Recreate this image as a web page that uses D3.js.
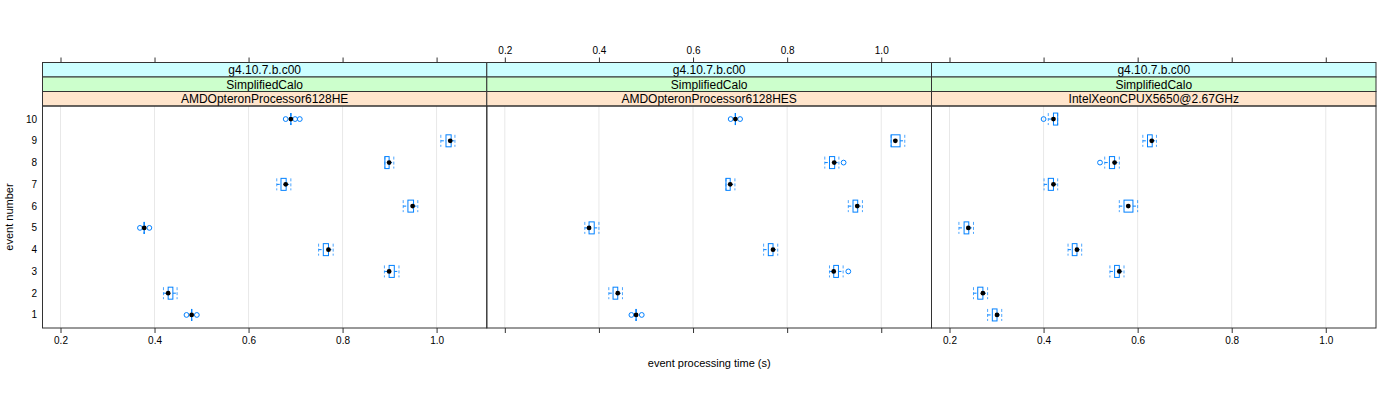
<!DOCTYPE html>
<html><head><meta charset="utf-8">
<script src="https://cdn.jsdelivr.net/npm/d3@7"></script>
<style>body{margin:0;background:#fff}svg text{font-family:"Liberation Sans",Arial,sans-serif}</style>
</head><body><svg id="c" width="1400" height="400"></svg>
<script>
const events = [1,2,3,4,5,6,7,8,9,10];
const xTicks = [0.2,0.4,0.6,0.8,1.0];
const stripTop = ["g4.10.7.b.c00","g4.10.7.b.c00","g4.10.7.b.c00"];
const stripMid = ["SimplifiedCalo","SimplifiedCalo","SimplifiedCalo"];
const stripBot = ["AMDOpteronProcessor6128HE","AMDOpteronProcessor6128HES","IntelXeonCPUX5650@2.67GHz"];

// panel 1: AMDOpteronProcessor6128HE
const p1Median = [0.479,0.429,0.899,0.770,0.378,0.949,0.679,0.899,1.029,0.690];
const p1Q1     = [0.479,0.429,0.899,0.759,0.378,0.939,0.669,0.890,1.020,0.690];
const p1Q3     = [0.479,0.439,0.910,0.770,0.378,0.951,0.680,0.899,1.031,0.690];
const p1Lo     = [0.479,0.419,0.889,0.749,0.378,0.929,0.660,0.890,1.009,0.690];
const p1Hi     = [0.479,0.448,0.920,0.780,0.378,0.960,0.690,0.909,1.039,0.690];
const p1Out    = [[0.468,0.490],[],[],[],[0.369,0.389],[],[],[],[],[0.679,0.699,0.709]];

// panel 2: AMDOpteronProcessor6128HES
const p2Median = [0.479,0.440,0.899,0.770,0.379,0.949,0.679,0.900,1.030,0.690];
const p2Q1     = [0.479,0.430,0.899,0.760,0.379,0.940,0.670,0.890,1.021,0.690];
const p2Q3     = [0.479,0.440,0.909,0.770,0.390,0.950,0.679,0.901,1.040,0.690];
const p2Lo     = [0.479,0.421,0.890,0.750,0.370,0.930,0.670,0.880,1.021,0.690];
const p2Hi     = [0.479,0.450,0.919,0.780,0.400,0.960,0.689,0.910,1.050,0.690];
const p2Out    = [[0.469,0.491],[],[0.930],[],[],[],[],[0.920],[],[0.680,0.700]];

// panel 3: IntelXeonCPUX5650@2.67GHz
const p3Median = [0.301,0.271,0.561,0.471,0.240,0.580,0.421,0.551,0.630,0.421];
const p3Q1     = [0.291,0.260,0.551,0.461,0.231,0.571,0.410,0.540,0.621,0.421];
const p3Q3     = [0.301,0.271,0.561,0.471,0.241,0.590,0.421,0.551,0.631,0.430];
const p3Lo     = [0.281,0.251,0.541,0.452,0.220,0.561,0.401,0.530,0.611,0.410];
const p3Hi     = [0.311,0.281,0.571,0.481,0.251,0.600,0.430,0.561,0.640,0.430];
const p3Out    = [[],[],[],[],[],[],[],[0.520],[],[0.400]];

const panels = [
  {med:p1Median,q1:p1Q1,q3:p1Q3,lo:p1Lo,hi:p1Hi,out:p1Out},
  {med:p2Median,q1:p2Q1,q3:p2Q3,lo:p2Lo,hi:p2Hi,out:p2Out},
  {med:p3Median,q1:p3Q1,q3:p3Q3,lo:p3Lo,hi:p3Hi,out:p3Out}
];

const svg = d3.select("#c");
const panelX = [42.5, 486.8, 931.5, 1376];
const pTop = 106, pBottom = 328;
const stripH = 14.5;
const stripCols = ["#ccffff","#ccffcc","#ffe5cc"];
const blue = "#0080ff", frame = "#333333";
const y = d3.scaleLinear().domain([0.4,10.6]).range([pBottom, pTop]);
const boxH = 12;

panels.forEach((p, i) => {
  const x0 = panelX[i], x1 = panelX[i+1];
  const x = d3.scaleLinear().domain([0.1617, 1.1068]).range([x0, x1]);
  const g = svg.append("g");
  g.selectAll("line.grid").data(xTicks).join("line")
    .attr("x1", d=>x(d)).attr("x2", d=>x(d)).attr("y1", pTop).attr("y2", pBottom)
    .attr("stroke", "#e8e8e8").attr("stroke-width", 1);
  const labels = [stripTop[i], stripMid[i], stripBot[i]];
  labels.forEach((lab, k) => {
    const sy = pTop - stripH*(3-k);
    g.append("rect").attr("x", x0).attr("y", sy).attr("width", x1-x0).attr("height", stripH)
      .attr("fill", stripCols[k]).attr("stroke", frame).attr("stroke-width", 1);
    g.append("text").attr("x", (x0+x1)/2).attr("y", sy + stripH/2 + 4.3)
      .attr("text-anchor","middle").attr("font-size", 12).attr("fill","#000").text(lab);
  });
  const axB = d3.axisBottom(x).tickValues(xTicks).tickSize(5).tickPadding(4)
    .tickFormat(i === 1 ? "" : d3.format(".1f"));
  const gb = svg.append("g").attr("transform", `translate(0,${pBottom})`).call(axB);
  gb.select(".domain").remove();
  gb.selectAll("line").attr("stroke", frame);
  gb.selectAll("text").attr("font-size", 10).attr("fill", "#000");
  const axT = d3.axisTop(x).tickValues(xTicks).tickSize(5).tickPadding(4)
    .tickFormat(i === 1 ? d3.format(".1f") : "");
  const gt = svg.append("g").attr("transform", `translate(0,${pTop - 3*stripH})`).call(axT);
  gt.select(".domain").remove();
  gt.selectAll("line").attr("stroke", frame);
  gt.selectAll("text").attr("font-size", 10).attr("fill", "#000");

  events.forEach((ev, j) => {
    const cy = y(ev);
    const bg = g.append("g");
    [[p.lo[j], p.q1[j]], [p.q3[j], p.hi[j]]].forEach(([a,b]) => {
      if (b - a > 1e-9) {
        bg.append("line").attr("x1", x(a)).attr("x2", x(b)).attr("y1", cy).attr("y2", cy)
          .attr("stroke", blue).attr("stroke-width", 1).attr("stroke-dasharray", "3,2");
      }
    });
    [p.lo[j], p.hi[j]].forEach(v => {
      bg.append("line").attr("x1", x(v)).attr("x2", x(v)).attr("y1", cy-boxH/2).attr("y2", cy+boxH/2)
        .attr("stroke", blue).attr("stroke-width", 1).attr("stroke-dasharray", "3,2").attr("opacity", 0.7);
    });
    bg.append("rect").attr("x", x(p.q1[j])).attr("y", cy-boxH/2)
      .attr("width", Math.max(0, x(p.q3[j]) - x(p.q1[j]))).attr("height", boxH)
      .attr("fill", "none").attr("stroke", blue).attr("stroke-width", 1);
    if (p.q3[j] - p.q1[j] < 1e-9) {
      bg.append("line").attr("x1", x(p.med[j])).attr("x2", x(p.med[j])).attr("y1", cy-boxH/2).attr("y2", cy+boxH/2)
        .attr("stroke", blue).attr("stroke-width", 1.2);
    }
    bg.selectAll("circle.o").data(p.out[j]).join("circle")
      .attr("cx", d=>x(d)).attr("cy", cy).attr("r", 2.4)
      .attr("fill", "none").attr("stroke", blue).attr("stroke-width", 1);
    bg.append("circle").attr("cx", x(p.med[j])).attr("cy", cy).attr("r", 2.4).attr("fill", "#000");
  });
  g.append("rect").attr("x", x0).attr("y", pTop).attr("width", x1-x0).attr("height", pBottom-pTop)
    .attr("fill","none").attr("stroke", frame).attr("stroke-width", 1);
});

svg.append("g").selectAll("text").data(events).join("text")
  .attr("x", 37).attr("y", d => y(d) + 3.5).attr("text-anchor","end")
  .attr("font-size", 10).attr("fill","#000").text(d => d);

svg.append("text").attr("transform", `translate(13,${(pTop+pBottom)/2}) rotate(-90)`)
  .attr("text-anchor","middle").attr("font-size", 11).attr("fill","#000").text("event number");
svg.append("text").attr("x", (panelX[0]+panelX[3])/2).attr("y", 367)
  .attr("text-anchor","middle").attr("font-size", 11).attr("fill","#000").text("event processing time (s)");
</script></body></html>
